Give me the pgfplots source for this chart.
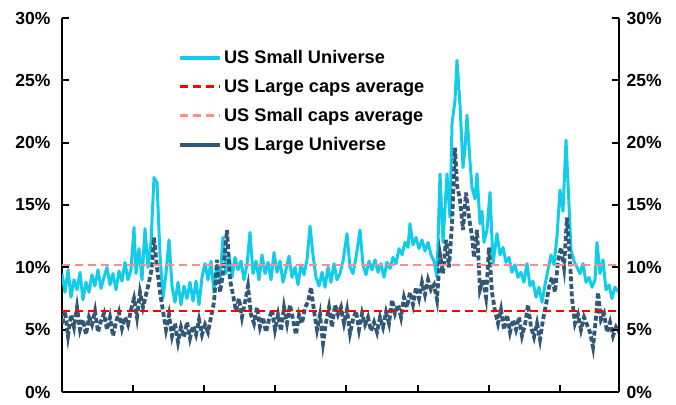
\documentclass[border=0pt]{standalone}
\usepackage{pgfplots}
\pgfplotsset{compat=1.18}
\usepackage{fontspec}
\setmainfont{Liberation Sans}
\definecolor{smallc}{RGB}{18,204,234}
\definecolor{largec}{RGB}{50,88,118}
\definecolor{redc}{RGB}{255,0,0}
\definecolor{pinkc}{RGB}{255,140,140}
\pgfplotstableread{
x y
62 9.5
65 8.0
68 9.8
71 7.6
74 9.0
77 8.2
80 9.6
83 7.4
86 8.8
89 8.0
92 9.4
95 8.5
98 9.8
101 8.3
104 9.2
107 10.0
110 8.6
113 9.5
116 8.2
119 9.7
122 8.9
125 10.4
128 9.0
131 9.8
134 13.2
136 9.5
139 11.5
142 9.0
145 13.1
148 10.0
151 12.0
154 17.2
157 16.8
160 11.0
163 7.5
166 9.5
169 12.2
172 8.5
175 7.2
178 8.8
181 7.0
184 8.5
187 7.5
190 8.8
193 7.3
196 8.9
199 7.0
202 9.2
205 10.3
208 9.0
211 10.5
214 8.0
217 10.2
220 9.0
223 12.4
226 9.5
229 11.0
232 9.2
235 10.8
238 9.8
241 10.5
244 9.0
247 10.2
250 12.8
253 9.5
256 10.5
259 9.0
262 11.0
265 9.5
268 10.4
271 9.0
274 11.2
277 9.6
280 10.5
283 8.8
286 9.8
289 10.9
292 9.2
295 10.0
298 8.6
301 10.2
304 9.4
307 10.6
310 13.3
313 11.0
316 9.2
319 8.5
322 9.6
325 8.4
328 10.0
331 8.8
334 10.3
337 9.0
340 9.5
343 10.5
347 12.7
350 10.0
353 9.5
356 10.8
360 13.0
363 10.2
366 9.4
369 10.5
372 9.8
375 10.6
378 9.6
381 10.3
384 9.2
387 10.4
390 9.9
393 10.8
396 10.3
399 11.5
402 11.0
405 12.0
408 11.6
410 13.5
413 11.8
416 12.4
419 11.5
422 12.2
425 11.3
428 12.0
431 11.0
434 10.5
437 9.2
440 17.5
443 12.0
447 17.5
450 14.0
452 21.5
455 23.4
457 26.6
460 23.0
463 18.0
465 19.5
467 22.2
470 18.5
472 16.4
475 15.5
477 17.5
480 13.5
482 14.5
484 12.0
487 13.0
490 16.0
493 10.3
497 12.7
500 11.0
503 11.6
506 10.4
509 10.8
512 9.6
515 10.2
518 9.2
521 9.6
524 8.8
527 10.3
530 8.5
533 8.9
536 7.6
539 8.4
542 7.2
545 8.6
548 9.8
551 11.0
554 10.2
557 12.5
560 16.2
563 14.5
566 20.2
569 15.0
571 11.4
574 10.5
577 10.0
580 9.5
583 10.3
586 8.8
589 9.2
592 8.4
595 9.0
597 12.0
600 9.5
603 10.6
606 8.2
609 8.6
612 7.5
615 8.4
619 8.0
}\smalltab
\pgfplotstableread{
x y
62 5.5
65 6.5
68 4.5
71 6.2
74 5.2
77 6.8
80 5.0
83 5.8
86 4.6
89 6.0
92 5.4
95 6.5
98 4.8
101 5.7
104 6.3
107 5.0
110 6.0
113 4.5
116 5.6
119 6.4
122 5.1
125 6.0
128 5.4
131 6.6
134 7.5
137 6.0
140 8.0
143 6.8
146 7.8
149 8.8
152 10.0
154 12.4
157 10.0
160 8.0
163 6.5
166 5.0
169 6.2
172 4.5
175 5.5
178 4.0
181 5.2
184 4.4
187 5.6
190 4.3
193 5.3
196 4.6
199 5.8
202 4.6
205 5.4
208 4.8
211 6.0
214 7.2
217 10.6
220 8.0
223 9.5
227 13.0
230 9.0
233 7.8
236 6.5
239 7.5
242 6.0
245 7.2
248 8.5
251 6.2
254 5.5
257 6.8
260 5.2
263 6.0
266 4.8
269 5.8
272 6.6
275 5.0
278 6.2
281 4.9
284 6.8
287 5.5
290 7.0
293 5.8
296 4.6
299 6.2
302 5.5
305 6.8
308 7.2
311 8.4
314 6.5
317 5.0
320 6.2
323 3.9
326 5.6
329 6.8
332 5.2
335 7.0
338 6.2
341 6.8
344 5.5
347 6.6
350 4.7
353 5.8
356 6.5
359 5.0
362 6.3
365 5.4
368 6.0
371 4.9
374 5.6
377 4.8
380 6.0
383 5.2
386 6.4
389 5.5
392 7.4
395 6.3
398 7.0
401 6.0
404 7.6
407 6.8
410 8.0
413 7.0
416 8.4
419 7.5
422 8.8
425 7.8
428 9.0
431 8.2
434 8.6
437 7.4
440 11.0
443 9.5
446 12.2
449 10.0
452 13.5
455 19.6
457 16.6
460 15.4
463 13.0
466 16.0
469 14.0
472 12.5
474 10.8
477 13.0
480 8.2
483 9.0
486 7.6
489 11.6
492 8.0
495 6.5
498 5.5
501 6.6
504 5.0
507 6.2
510 4.8
513 5.8
516 5.0
519 6.0
522 4.5
525 5.4
528 7.0
531 5.2
534 4.4
537 5.5
540 4.2
543 5.8
546 7.0
549 8.4
552 9.2
555 8.0
558 10.5
561 11.6
564 10.0
567 14.0
570 10.5
572 7.5
575 5.5
578 6.2
581 5.0
584 6.0
587 5.4
590 4.8
593 3.6
596 6.0
598 8.0
601 5.8
604 6.3
607 4.8
610 5.6
613 4.5
616 5.2
619 4.8
}\largetab
\begin{document}
\begin{tikzpicture}[font=\fontsize{17.5}{21}\selectfont\bfseries]
\pgfplotsset{
  common/.style={
    scale only axis, width=557pt, height=374pt,
    xmin=62, xmax=619, ymin=0, ymax=30,
    ytick={0,5,10,15,20,25,30},
    yticklabel={\pgfmathprintnumber{\tick}\%},
    /pgf/number format/assume math mode=true,
    tick align=inside,
    major tick length=7pt,
    tick style={black, line width=2pt},
    axis line style={black, line width=2.6pt},
    ticklabel style={font=\fontsize{17.5}{21}\selectfont\bfseries},
  }
}
\begin{axis}[common, name=ax,
  axis x line*=bottom, axis y line*=left,
  xtick={62,133,204,275,346,418,489,560,619},
  xticklabels={},
  yticklabel style={xshift=-8pt},
  legend style={at={(0.208,0.919)}, anchor=north west, draw=none, fill=none,
    row sep=10.5pt, inner sep=0pt,
    nodes={font=\fontsize{18.2}{22}\selectfont\bfseries, inner sep=2pt}},
  legend cell align=left,
  legend image code/.code={\draw[#1] (0pt,0pt) -- (40pt,0pt);},
]
\addlegendimage{smallc, line width=3.6pt}
\addlegendentry{US Small Universe}
\addlegendimage{redc, line width=2.6pt, dash pattern=on 8pt off 5pt}
\addlegendentry{US Large caps average}
\addlegendimage{pinkc, line width=2.6pt, dash pattern=on 8pt off 5pt}
\addlegendentry{US Small caps average}
\addlegendimage{largec, line width=4pt}
\addlegendentry{US Large Universe}
\addplot[forget plot, smallc, line width=3pt, line join=round] table[x=x,y=y] {\smalltab};
\addplot[forget plot, largec, line width=3.8pt, dash pattern=on 5pt off 2.5pt] table[x=x,y=y] {\largetab};
\addplot[forget plot, redc, line width=2.4pt, dash pattern=on 8pt off 5pt] coordinates {(62,6.5) (619,6.5)};
\addplot[forget plot, pinkc, line width=2.4pt, dash pattern=on 8pt off 5pt] coordinates {(62,10.2) (619,10.2)};
\end{axis}
\begin{axis}[common,
  axis x line=none, axis y line*=right,
  yticklabel style={xshift=4pt},
]
\addplot[draw=none, forget plot] coordinates {(62,0)};
\end{axis}
\pgfresetboundingbox
\path (ax.south west) ++(-62pt,-13pt) coordinate (bl);
\path (ax.north east) ++(57pt,18pt) coordinate (tr);
\path (bl) rectangle (tr);
\end{tikzpicture}
\end{document}
